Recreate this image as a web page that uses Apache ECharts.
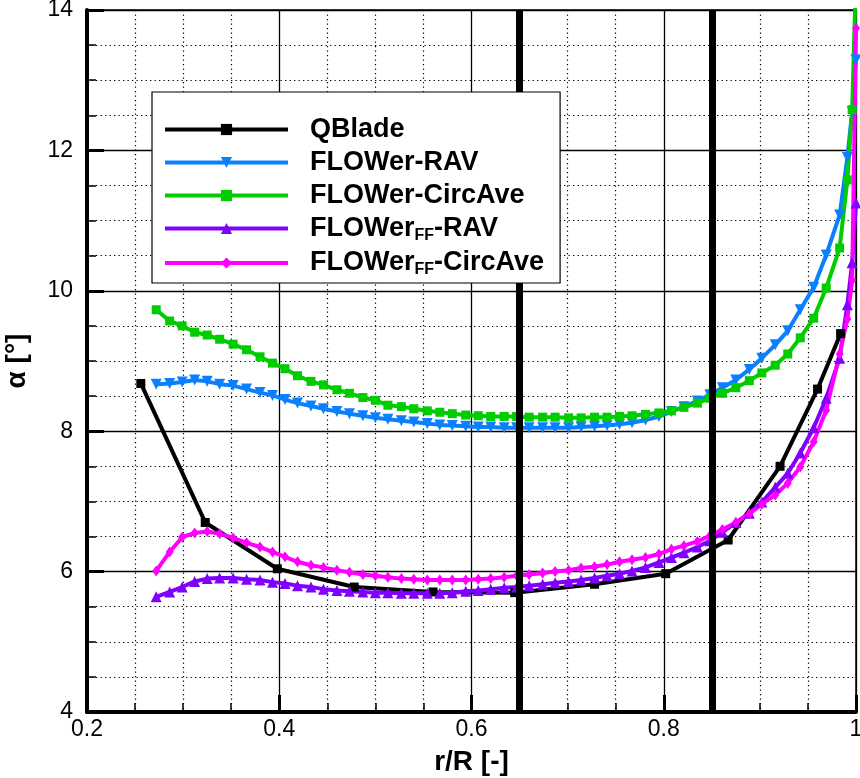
<!DOCTYPE html>
<html>
<head>
<meta charset="utf-8">
<title>alpha vs r/R</title>
<script src="https://cdn.jsdelivr.net/npm/echarts@6/dist/echarts.min.js"></script>
<style>
html, body { margin: 0; padding: 0; background: #fff; }
#main { width: 860px; height: 778px; }
</style>
</head>
<body>
<div id="main"></div>
<script>
// QBlade stations
var rQBlade = [0.256, 0.323, 0.398, 0.478, 0.560, 0.645, 0.728, 0.802, 0.867, 0.921, 0.960, 0.984];
var alphaQBlade = [8.68, 6.70, 6.04, 5.78, 5.71, 5.70, 5.82, 5.97, 6.45, 7.50, 8.60, 9.39];

// r/R of the FLOWer extraction points (same for all four runs)
var rFlower = [0.272, 0.286, 0.299, 0.312, 0.325, 0.338, 0.352, 0.366, 0.380, 0.393,
	0.406, 0.419, 0.433, 0.446, 0.460, 0.473, 0.487, 0.500, 0.513, 0.527,
	0.540, 0.554, 0.567, 0.580, 0.594, 0.607, 0.620, 0.634, 0.647, 0.660,
	0.674, 0.687, 0.701, 0.714, 0.728, 0.741, 0.754, 0.767, 0.781, 0.795,
	0.808, 0.821, 0.835, 0.848, 0.861, 0.875, 0.889, 0.902, 0.916, 0.929,
	0.942, 0.956, 0.969, 0.983, 0.991, 0.996, 1.000];

var alphaRav = [8.67, 8.68, 8.70, 8.73, 8.71, 8.67, 8.65, 8.60, 8.55, 8.51,
	8.45, 8.40, 8.36, 8.32, 8.28, 8.25, 8.22, 8.19, 8.17, 8.15,
	8.13, 8.11, 8.09, 8.08, 8.07, 8.06, 8.06, 8.05, 8.05, 8.05,
	8.05, 8.05, 8.05, 8.06, 8.07, 8.08, 8.10, 8.12, 8.16, 8.21,
	8.28, 8.35, 8.43, 8.52, 8.62, 8.73, 8.88, 9.04, 9.23, 9.43,
	9.73, 10.05, 10.51, 11.08, 11.90, 12.55, 13.29];

var alphaCircAve = [9.73, 9.57, 9.50, 9.41, 9.37, 9.31, 9.24, 9.16, 9.06, 8.97,
	8.89, 8.79, 8.71, 8.66, 8.59, 8.54, 8.48, 8.44, 8.37, 8.35,
	8.32, 8.29, 8.27, 8.25, 8.23, 8.22, 8.21, 8.21, 8.21, 8.20,
	8.20, 8.20, 8.19, 8.19, 8.20, 8.20, 8.21, 8.22, 8.24, 8.26,
	8.29, 8.34, 8.40, 8.47, 8.54, 8.62, 8.72, 8.83, 8.94, 9.10,
	9.33, 9.61, 10.04, 10.61, 11.58, 12.58, 14.50];

var alphaFfRav = [5.64, 5.71, 5.78, 5.86, 5.90, 5.91, 5.91, 5.89, 5.88, 5.85,
	5.83, 5.80, 5.78, 5.75, 5.73, 5.72, 5.71, 5.70, 5.70, 5.69,
	5.69, 5.69, 5.69, 5.70, 5.72, 5.73, 5.75, 5.77, 5.78, 5.80,
	5.82, 5.84, 5.86, 5.88, 5.91, 5.94, 5.97, 6.01, 6.06, 6.13,
	6.20, 6.27, 6.35, 6.44, 6.56, 6.70, 6.83, 6.99, 7.20, 7.40,
	7.69, 8.05, 8.47, 9.04, 9.80, 10.40, 11.25];

var alphaFfCircAve = [6.01, 6.28, 6.49, 6.55, 6.57, 6.54, 6.48, 6.41, 6.35, 6.28,
	6.21, 6.14, 6.09, 6.06, 6.02, 5.99, 5.96, 5.94, 5.92, 5.90,
	5.89, 5.88, 5.88, 5.88, 5.88, 5.89, 5.90, 5.92, 5.94, 5.96,
	5.98, 6.00, 6.02, 6.05, 6.07, 6.10, 6.14, 6.17, 6.20, 6.25,
	6.32, 6.37, 6.43, 6.51, 6.60, 6.70, 6.82, 6.96, 7.09, 7.26,
	7.49, 7.85, 8.30, 9.10, 9.60, 10.15, 13.74];

// axis ticks and the two marked radii
var xTicks = [0.2, 0.4, 0.6, 0.8, 1.0];
var yTicks = [4, 6, 8, 10, 12, 14];
var markedRadii = [0.65, 0.85];

var font = "'Liberation Sans', Arial, Helvetica, sans-serif";

var pairs = function(xs, ys) {
	return xs.map(function(x, i) { return [x, ys[i]]; });
};

var curve = function(name, xs, ys, color, symbol, size, rotate) {
	return {
		name: name,
		type: 'line',
		data: pairs(xs, ys),
		color: color,
		symbol: symbol,
		symbolSize: size,
		symbolRotate: rotate || 0,
		showAllSymbol: true,
		lineStyle: { width: 4, color: color },
		itemStyle: { color: color },
		z: 2
	};
};

var legendNames = {
	'QBlade': '{m|QBlade}',
	'FLOWer-RAV': '{m|FLOWer-RAV}',
	'FLOWer-CircAve': '{m|FLOWer-CircAve}',
	'FLOWerFF-RAV': '{m|FLOWer}{s|FF}{m|-RAV}',
	'FLOWerFF-CircAve': '{m|FLOWer}{s|FF}{m|-CircAve}'
};

var chart = echarts.init(document.getElementById('main'));

var option = {
	animation: false,
	backgroundColor: '#fff',
	textStyle: { fontFamily: font },
	grid: {
		left: 87, right: 4, top: 10, bottom: 66,
		outerBoundsMode: 'none',
		containLabel: false,
		show: true, borderColor: '#000', borderWidth: 1.5,
		backgroundColor: 'transparent'
	},
	legend: {
		data: Object.keys(legendNames),
		orient: 'vertical',
		left: 152, top: 92,
		padding: [24, 16, 5, 11],
		itemWidth: 123, itemHeight: 14,
		itemGap: 6,
		backgroundColor: '#fff',
		borderColor: '#000', borderWidth: 1.2,
		inactiveColor: '#000',
		lineStyle: { width: 4 },
		formatter: function(name) { return legendNames[name]; },
		textStyle: {
			color: '#000',
			padding: [0, 0, 0, 17],
			rich: {
				m: { fontFamily: font, fontSize: 27, fontWeight: 'bold', lineHeight: 30, color: '#000' },
				s: { fontFamily: font, fontSize: 16, fontWeight: 'bold', lineHeight: 4, verticalAlign: 'bottom', color: '#000' }
			}
		},
		z: 10
	},
	xAxis: {
		type: 'value',
		min: xTicks[0], max: xTicks[xTicks.length - 1],
		interval: xTicks[1] - xTicks[0],
		name: 'r/R [-]',
		nameLocation: 'middle', nameGap: 36,
		nameTextStyle: { fontFamily: font, fontSize: 28, fontWeight: 'bold', color: '#000' },
		axisLine: { show: true, onZero: false, lineStyle: { color: '#000', width: 4 } },
		axisTick: { show: true, inside: true, length: 17, lineStyle: { color: '#000', width: 3 } },
		minorTick: { show: true, splitNumber: 4, length: 9, lineStyle: { color: '#000', width: 1.5 } },
		axisLabel: { fontFamily: font, fontSize: 23, color: '#000', margin: 6 },
		splitLine: { show: true, lineStyle: { color: '#000', width: 1.3 } },
		minorSplitLine: { show: true, lineStyle: { color: '#000', width: 1.2, type: [1.3, 3.2] } }
	},
	yAxis: {
		type: 'value',
		min: yTicks[0], max: yTicks[yTicks.length - 1],
		interval: yTicks[1] - yTicks[0],
		name: 'α [°]',
		nameLocation: 'middle', nameGap: 56, nameRotate: 90,
		nameTextStyle: { fontFamily: font, fontSize: 28, fontWeight: 'bold', color: '#000' },
		axisLine: { show: true, onZero: false, lineStyle: { color: '#000', width: 4 } },
		axisTick: { show: true, inside: true, length: 17, lineStyle: { color: '#000', width: 3 } },
		minorTick: { show: true, splitNumber: 4, length: 9, lineStyle: { color: '#000', width: 1.5 } },
		axisLabel: { fontFamily: font, fontSize: 23, color: '#000', margin: 14 },
		splitLine: { show: true, lineStyle: { color: '#000', width: 1.3 } },
		minorSplitLine: { show: true, lineStyle: { color: '#000', width: 1.2, type: [1.3, 3.2] } }
	},
	series: [
		curve('QBlade', rQBlade, alphaQBlade, '#000000', 'rect', 9),
		curve('FLOWer-RAV', rFlower, alphaRav, '#0a80ff', 'triangle', 11, 180),
		curve('FLOWer-CircAve', rFlower, alphaCircAve, '#00cc00', 'rect', 9),
		curve('FLOWerFF-RAV', rFlower, alphaFfRav, '#8000ff', 'triangle', 11),
		curve('FLOWerFF-CircAve', rFlower, alphaFfCircAve, '#ff00ff', 'diamond', [8, 11]),
		{
			type: 'line',
			data: [],
			z: 3,
			markLine: {
				silent: true,
				symbol: 'none',
				label: { show: false },
				lineStyle: { color: '#000', width: 7, type: 'solid' },
				data: markedRadii.map(function(r) { return { xAxis: r }; })
			}
		}
	]
};

chart.setOption(option);
</script>
</body>
</html>
